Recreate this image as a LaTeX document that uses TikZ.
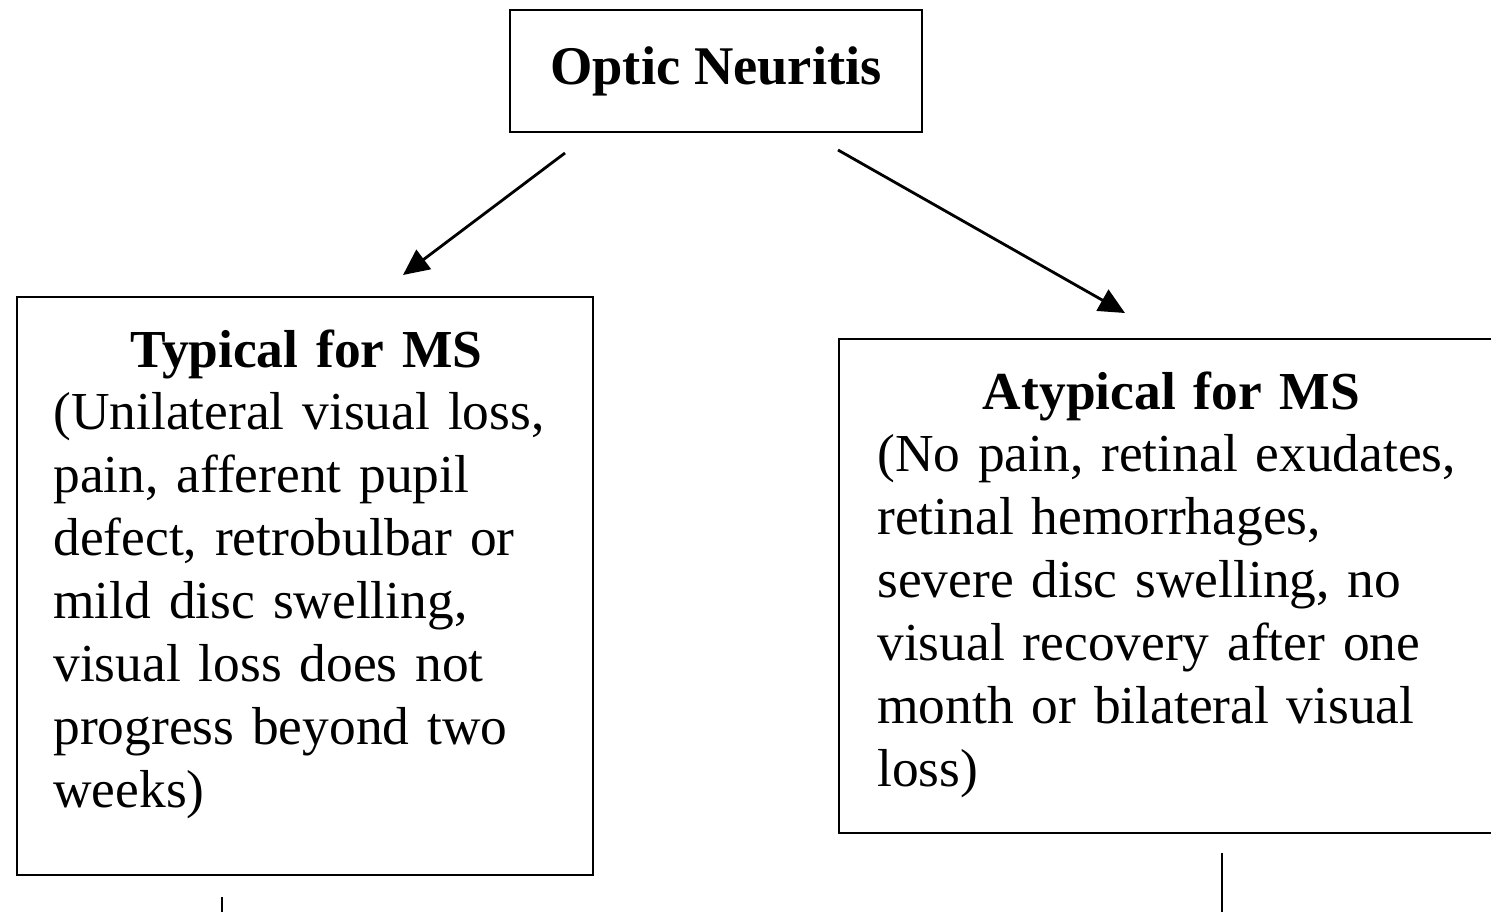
\documentclass[tikz,border=0pt]{standalone}
\usepackage{fontspec}
\setmainfont{Liberation Serif}
\usetikzlibrary{arrows.meta}
\hyphenpenalty=10000

\tikzset{
  box/.style={draw,inner sep=0},
  boxtext/.style={anchor=base west,inner sep=0,align=left,font=\fontsize{15.2}{17.9}\selectfont},
  arr/.style={-{Triangle[length=0.26cm,width=0.24cm]}}
}

\begin{document}
\begin{tikzpicture}[thick]
\useasboundingbox (0,0) rectangle (14.91,-9.12);
\clip (0,0) rectangle (14.91,-9.12);

\node (on) at (7.16,-0.71) [box,minimum width=4.12cm,minimum height=1.22cm,font=\fontsize{15.5}{17.9}\selectfont\bfseries] {Optic Neuritis};

\node (typ) at (3.05,-5.86) [box,minimum width=5.76cm,minimum height=5.78cm] {};
\node (typtext) at (0.52,-3.67) [boxtext,text width=5.3cm] {\makebox[5.06cm]{\textbf{Typical for MS}}\\
(Unilateral visual loss,\\ pain, afferent pupil\\ defect, retrobulbar or\\ mild disc swelling,\\ visual loss does not\\ progress beyond two\\ weeks)};

\node (atyp) at (11.70,-5.86) [box,minimum width=6.62cm,minimum height=4.94cm] {};
\node (atyptext) at (8.76,-4.09) [boxtext,text width=6.1cm] {\makebox[5.88cm]{\textbf{Atypical for MS}}\\
(No pain, retinal exudates,\\ retinal hemorrhages,\\ severe disc swelling, no\\ visual recovery after one\\ month or bilateral visual\\ loss)};

\coordinate (a1) at (5.65,-1.53);
\coordinate (a2) at (4.03,-2.75);
\draw [arr] (a1) -- (a2);
\coordinate (b1) at (8.38,-1.50);
\coordinate (b2) at (11.25,-3.13);
\draw [arr] (b1) -- (b2);

\coordinate (c1) at (2.22,-8.97);
\coordinate (c2) at (2.22,-9.30);
\draw (c1) -- (c2);
\coordinate (d1) at (12.22,-8.53);
\coordinate (d2) at (12.22,-9.30);
\draw (d1) -- (d2);
\end{tikzpicture}
\end{document}
